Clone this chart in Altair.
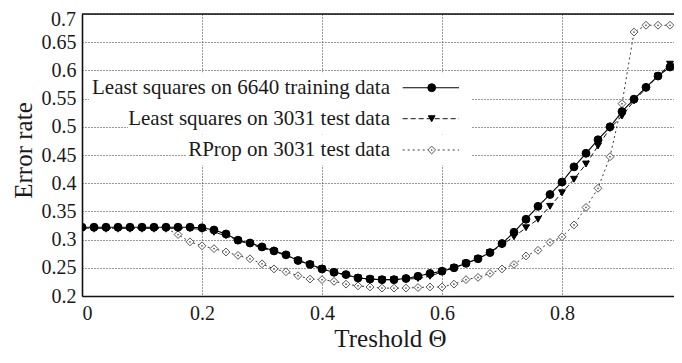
import altair as alt
import pandas as pd

# ---------------- data ----------------
theta = [round(i * 0.02, 2) for i in range(51)]

train = [0.322, 0.322, 0.322, 0.322, 0.322, 0.322, 0.322, 0.322, 0.322, 0.322,
         0.321, 0.317, 0.310, 0.299, 0.294, 0.287, 0.280, 0.273, 0.263, 0.256,
         0.248, 0.242, 0.238, 0.232, 0.230, 0.229, 0.229, 0.231, 0.235, 0.240,
         0.244, 0.250, 0.258, 0.266, 0.277, 0.293, 0.313, 0.336, 0.359, 0.380,
         0.402, 0.429, 0.453, 0.477, 0.500, 0.527, 0.549, 0.570, 0.590, 0.606,
         0.624]

test = [0.320, 0.320, 0.320, 0.320, 0.320, 0.320, 0.320, 0.320, 0.320, 0.320,
        0.318, 0.313, 0.307, 0.298, 0.292, 0.285, 0.279, 0.272, 0.263, 0.256,
        0.248, 0.242, 0.237, 0.232, 0.230, 0.229, 0.229, 0.230, 0.231, 0.235,
        0.243, 0.250, 0.258, 0.266, 0.277, 0.291, 0.305, 0.321, 0.336, 0.359,
        0.383, 0.407, 0.434, 0.466, 0.497, 0.519, 0.546, 0.568, 0.590, 0.611,
        0.625]

rprop = [0.320, 0.320, 0.320, 0.320, 0.320, 0.320, 0.320, 0.320, 0.309, 0.296,
         0.289, 0.284, 0.278, 0.272, 0.266, 0.257, 0.248, 0.243, 0.236, 0.230,
         0.229, 0.226, 0.221, 0.218, 0.216, 0.214, 0.214, 0.214, 0.215, 0.216,
         0.216, 0.221, 0.229, 0.233, 0.240, 0.248, 0.256, 0.271, 0.281, 0.295,
         0.305, 0.326, 0.357, 0.391, 0.447, 0.541, 0.668, 0.680, 0.680, 0.680,
         0.680]

series_labels = ["Least squares on 6640 training data",
                 "Least squares on 3031 test data",
                 "RProp on 3031 test data"]

x_ticks = [0, 0.2, 0.4, 0.6, 0.8]
y_ticks = [0.2, 0.25, 0.3, 0.35, 0.4, 0.45, 0.5, 0.55, 0.6, 0.65, 0.7]
top_label = "0.7"

# ---------------- layout / style ----------------
PX_PER_UNIT = 600          # reference: 0.2 units = 120 px
W, H = 592, 282
LEFT, TOP, BOTTOM = 74, 6, 55
X_DOM = [0, W / PX_PER_UNIT]
Y_DOM = [0.2, 0.7]
FONT = "Liberation Serif"
INK = "#1a1a1a"
FRAME = "#111111"
TICK_FS = 20


def fx(px):
    """page pixel -> data x (used only to place the hand-drawn key)"""
    return X_DOM[0] + (px - 8 - LEFT) / W * (X_DOM[1] - X_DOM[0])


def fy(py):
    return Y_DOM[1] - (py - 8 - TOP) / H * (Y_DOM[1] - Y_DOM[0])


styles = [
    dict(line="#000000", dash=[1, 0], shape="circle", size=62, fill="#000000",
         mstroke="#000000", lw=1.1),
    dict(line="#111111", dash=[5, 3], shape="triangle-down", size=46, fill="#000000",
         mstroke="#000000", lw=1.0),
    dict(line="#3a3a3a", dash=[2, 3], shape="diamond", size=62, fill="#ffffff",
         mstroke="#555555", lw=1.0),
]

X = alt.X("theta:Q",
          scale=alt.Scale(domain=X_DOM, nice=False, zero=False),
          axis=alt.Axis(values=x_ticks, format="~g", grid=True, ticks=False,
                        domain=True, domainColor=FRAME, domainWidth=1.6,
                        gridDash=[1, 2], gridColor="#333333", gridWidth=1,
                        labelFont=FONT, labelFontSize=TICK_FS, labelColor=INK, labelPadding=7,
                        title="Treshold \u0398", titleFont=FONT, titleFontSize=25,
                        titleFontWeight="normal", titleColor=INK, titleX=308, titleY=50,
                        titleBaseline="alphabetic", titleAlign="center"))
Y = alt.Y("err:Q",
          scale=alt.Scale(domain=Y_DOM, nice=False, zero=False),
          axis=alt.Axis(values=y_ticks, format="~g", grid=True, ticks=False,
                        domain=True, domainColor=FRAME, domainWidth=1.6,
                        labelExpr="datum.value > 0.699 ? '' : datum.label",
                        gridDash=[1, 2], gridColor="#333333", gridWidth=1,
                        labelFont=FONT, labelFontSize=TICK_FS, labelColor=INK, labelPadding=6,
                        title="Error rate", titleFont=FONT, titleFontSize=25,
                        titleFontWeight="normal", titleColor=INK, titleAngle=270,
                        titleX=-51, titleY=136, titleBaseline="alphabetic",
                        titleAlign="center"))

series = [train, test, rprop]
layers = []

# key boxes (opaque, hide grid behind the key text)
key_rows_y = [87.7, 118.7, 150.0]
key_box_left = [89, 128, 186]
key_box_right = 472
key_text_right = 390
key_line = (402.7, 459.0)
key_marker = 431.7

box_df = pd.DataFrame({
    "theta": [fx(l) for l in key_box_left],
    "theta2": [fx(key_box_right)] * 3,
    "err": [fy(y - 15.5) for y in key_rows_y],
    "err2": [fy(y + 15.5) for y in key_rows_y],
})
layers.append(alt.Chart(box_df).mark_rect(fill="white", stroke=None).encode(
    x=X, x2="theta2:Q", y=Y, y2="err2:Q"))

# data, drawn back to front
for idx in [2, 1, 0]:
    st = styles[idx]
    df = pd.DataFrame({"theta": theta, "err": series[idx]})
    base = alt.Chart(df)
    layers.append(base.mark_line(stroke=st["line"], strokeDash=st["dash"],
                                 strokeWidth=st["lw"], clip=True).encode(x=X, y=Y))
    layers.append(base.mark_point(shape=st["shape"], size=st["size"], filled=True,
                                  fill=st["fill"], stroke=st["mstroke"], strokeWidth=1,
                                  opacity=1, clip=True).encode(x=X, y=Y))
    if st["shape"] == "diamond":
        layers.append(base.mark_point(shape="circle", size=3, filled=True,
                                      color=st["mstroke"], opacity=1, clip=True)
                      .encode(x=X, y=Y))

# key: text, sample line, sample marker
for i, lab in enumerate(series_labels):
    st = styles[i]
    ty = fy(key_rows_y[i])
    tdf = pd.DataFrame({"theta": [fx(key_text_right)], "err": [ty], "label": [lab]})
    layers.append(alt.Chart(tdf).mark_text(align="right", baseline="middle", font=FONT,
                                           fontSize=21, color=INK)
                  .encode(x=X, y=Y, text="label:N"))
    ldf = pd.DataFrame({"theta": [fx(key_line[0])], "theta2": [fx(key_line[1])], "err": [ty]})
    layers.append(alt.Chart(ldf).mark_rule(stroke=st["line"], strokeDash=st["dash"],
                                           strokeWidth=st["lw"])
                  .encode(x=X, x2="theta2:Q", y=Y))
    mdf = pd.DataFrame({"theta": [fx(key_marker)], "err": [ty]})
    layers.append(alt.Chart(mdf).mark_point(shape=st["shape"], size=st["size"], filled=True,
                                            fill=st["fill"], stroke=st["mstroke"],
                                            strokeWidth=1, opacity=1)
                  .encode(x=X, y=Y))
    if st["shape"] == "diamond":
        layers.append(alt.Chart(mdf).mark_point(shape="circle", size=3, filled=True,
                                                color=st["mstroke"], opacity=1)
                      .encode(x=X, y=Y))

# top frame line (the right edge of the reference frame lies outside the crop)
one = pd.DataFrame({"k": [0]})
layers.append(alt.Chart(one).mark_rule(stroke=FRAME, strokeWidth=1.6)
              .encode(x=alt.value(0), x2=alt.value(W), y=alt.value(0)))

# top y tick label, nudged down slightly so it stays inside the page
layers.append(alt.Chart(pd.DataFrame({"t": [top_label]}))
              .mark_text(align="right", baseline="top", font=FONT, fontSize=TICK_FS,
                         color=INK, dy=-3.6)
              .encode(x=alt.value(-6), y=alt.value(0), text="t:N"))

chart = alt.layer(*layers).properties(
    width=W, height=H,
    autosize=alt.AutoSizeParams(type="none"),
    padding={"left": LEFT, "top": TOP, "right": 0, "bottom": BOTTOM},
).configure_view(strokeWidth=0).configure(font=FONT)

chart.save("out.html", embed_options={"renderer": "svg", "actions": False})
